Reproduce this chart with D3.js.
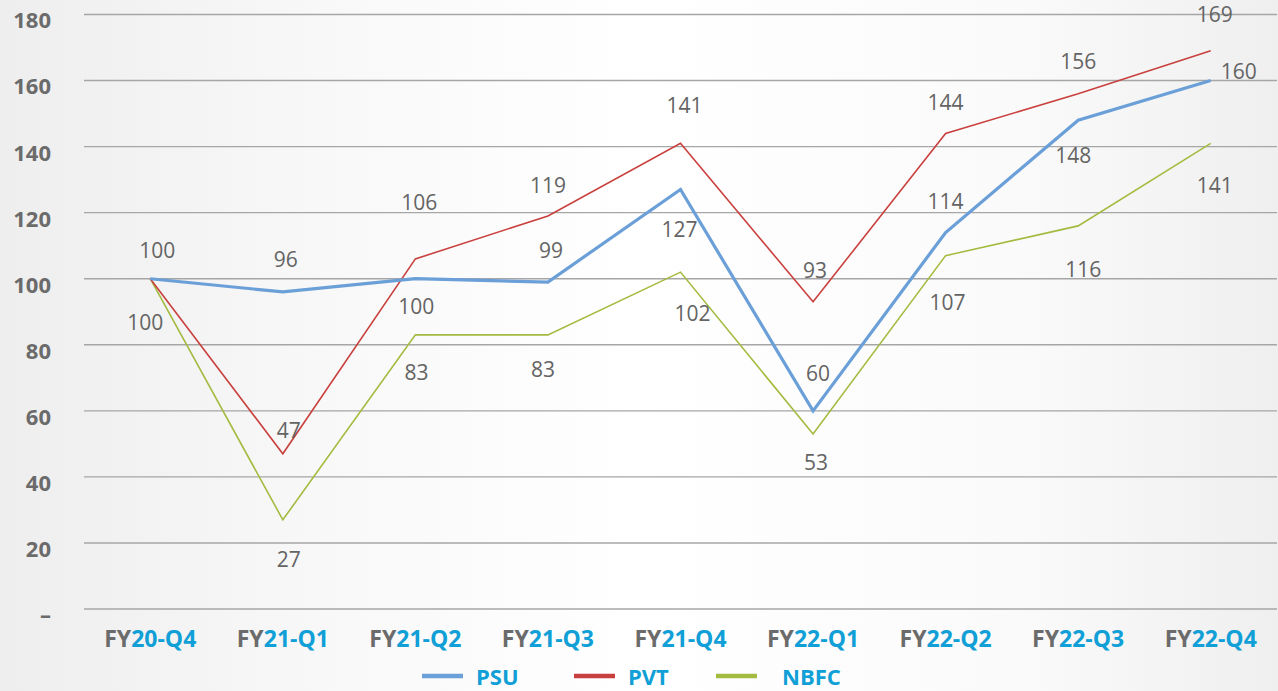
<!DOCTYPE html>
<html>
  <head>
    <meta charset="utf-8" />
    <script src="https://d3js.org/d3.v7.min.js"></script>
    <style>
      body { margin: 0; overflow: hidden; }
      svg { display: block; }
    </style>
  </head>
  <body>
    <div id="chart"></div>
    <script>
      // data
      var categories = ["FY20-Q4", "FY21-Q1", "FY21-Q2", "FY21-Q3", "FY21-Q4", "FY22-Q1", "FY22-Q2", "FY22-Q3", "FY22-Q4"];
      var psu = [100, 96, 100, 99, 127, 60, 114, 148, 160];
      var pvt = [100, 47, 106, 119, 141, 93, 144, 156, 169];
      var nbfc = [100, 27, 83, 83, 102, 53, 107, 116, 141];
      var yTicks = [0, 20, 40, 60, 80, 100, 120, 140, 160, 180];

      // label offsets from the point (dx, dy), null = no label
      var psuLabelPos = [[7, -26], [3, -31], [1, 30], [3, -30], [-1, 42], [5, -35], [0, -29], [-5, 37], [28, -7]];
      var pvtLabelPos = [null, [6, -21], [4, -55], [0, -29], [4, -36], [2, -29], [0, -29], [0, -30], [4, -34]];
      var nbfcLabelPos = [[-5, 46], [6, 42], [1, 40], [-5, 37], [12, 43], [3, 30], [2, 49], [5, 45], [4, 44]];

      var width = 1278, height = 691;
      var margin = { top: 14.5, right: 1, bottom: 82, left: 84 };

      var svg = d3.select("#chart").append("svg")
        .attr("width", width)
        .attr("height", height);

      // background gradient
      var grad = svg.append("defs").append("linearGradient")
        .attr("id", "bg").attr("x1", "0%").attr("x2", "100%").attr("y1", "0%").attr("y2", "0%");
      grad.append("stop").attr("offset", "0%").attr("stop-color", "#eeeeee");
      grad.append("stop").attr("offset", "25%").attr("stop-color", "#f8f8f8");
      grad.append("stop").attr("offset", "50%").attr("stop-color", "#ffffff");
      grad.append("stop").attr("offset", "80%").attr("stop-color", "#fafafa");
      grad.append("stop").attr("offset", "100%").attr("stop-color", "#efefef");
      svg.append("rect").attr("width", width).attr("height", height).attr("fill", "url(#bg)");

      var x = d3.scaleBand().domain(categories).range([margin.left, width - margin.right]);
      var y = d3.scaleLinear().domain([0, 180]).range([height - margin.bottom, margin.top]);
      var cx = function (c) { return x(c) + x.bandwidth() / 2; };

      // gridlines
      svg.append("g").selectAll("line")
        .data(yTicks)
        .enter().append("line")
        .attr("x1", margin.left).attr("x2", width - margin.right)
        .attr("y1", function (d) { return y(d); })
        .attr("y2", function (d) { return y(d); })
        .attr("stroke", "#a6a6a6")
        .attr("stroke-width", 1.4);

      // y tick labels
      svg.append("g").selectAll("text")
        .data(yTicks)
        .enter().append("text")
        .attr("x", 51)
        .attr("y", function (d) { return y(d) + 8; })
        .attr("dominant-baseline", "middle")
        .attr("text-anchor", "end")
        .style("font-family", "'Open Sans', sans-serif")
        .style("font-weight", "bold")
        .style("font-size", "22px")
        .style("fill", "#6b6b6b")
        .text(function (d) { return d === 0 ? "\u2013" : d; });

      // x labels: "FY" gray, rest blue
      var xl = svg.append("g").selectAll("text")
        .data(categories)
        .enter().append("text")
        .attr("x", function (d) { return cx(d); })
        .attr("y", 647)
        .attr("text-anchor", "middle")
        .style("font-family", "'Open Sans', sans-serif")
        .style("font-weight", "bold")
        .style("font-size", "23px");
      xl.append("tspan").style("fill", "#6b6b6b").text(function (d) { return d.slice(0, 2); });
      xl.append("tspan").style("fill", "#109fd6").text(function (d) { return d.slice(2); });

      var series = [
        { name: "PSU", values: psu, color: "#6a9fd8", width: 3.2, pos: psuLabelPos },
        { name: "PVT", values: pvt, color: "#c9413e", width: 1.6, pos: pvtLabelPos },
        { name: "NBFC", values: nbfc, color: "#a3bb3f", width: 1.6, pos: nbfcLabelPos }
      ];

      var line = d3.line()
        .x(function (d, i) { return cx(categories[i]); })
        .y(function (d) { return y(d); });

      // draw NBFC, PVT, then PSU on top
      series.slice().reverse().forEach(function (s) {
        svg.append("path")
          .datum(s.values)
          .attr("d", line)
          .attr("fill", "none")
          .attr("stroke", s.color)
          .attr("stroke-width", s.width)
          .attr("stroke-linejoin", "miter");
      });

      // data labels
      series.forEach(function (s) {
        svg.append("g").selectAll("text")
          .data(s.values.map(function (v, i) { return { v: v, i: i, p: s.pos[i] }; }).filter(function (d) { return d.p; }))
          .enter().append("text")
          .attr("x", function (d) { return cx(categories[d.i]) + d.p[0]; })
          .attr("y", function (d) { return y(d.v) + d.p[1]; })
          .attr("text-anchor", "middle")
          .attr("dominant-baseline", "middle")
          .style("font-family", "'Open Sans', sans-serif")
          .style("font-size", "21px")
          .style("fill", "#646464")
          .text(function (d) { return d.v; });
      });

      // legend
      var legendX = [422, 574, 716];
      var legendTextX = [476, 628, 782];
      var legend = svg.append("g").selectAll("g")
        .data(series)
        .enter().append("g");
      legend.append("line")
        .attr("x1", function (d, i) { return legendX[i]; })
        .attr("x2", function (d, i) { return legendX[i] + 41; })
        .attr("y1", 676).attr("y2", 676)
        .attr("stroke", function (d) { return d.color; })
        .attr("stroke-width", 4.5);
      legend.append("text")
        .attr("x", function (d, i) { return legendTextX[i]; })
        .attr("y", 685)
        .style("font-family", "'Open Sans', sans-serif")
        .style("font-weight", "bold")
        .style("font-size", "22px")
        .style("fill", "#109fd6")
        .text(function (d) { return d.name; });
    </script>
  </body>
</html>
